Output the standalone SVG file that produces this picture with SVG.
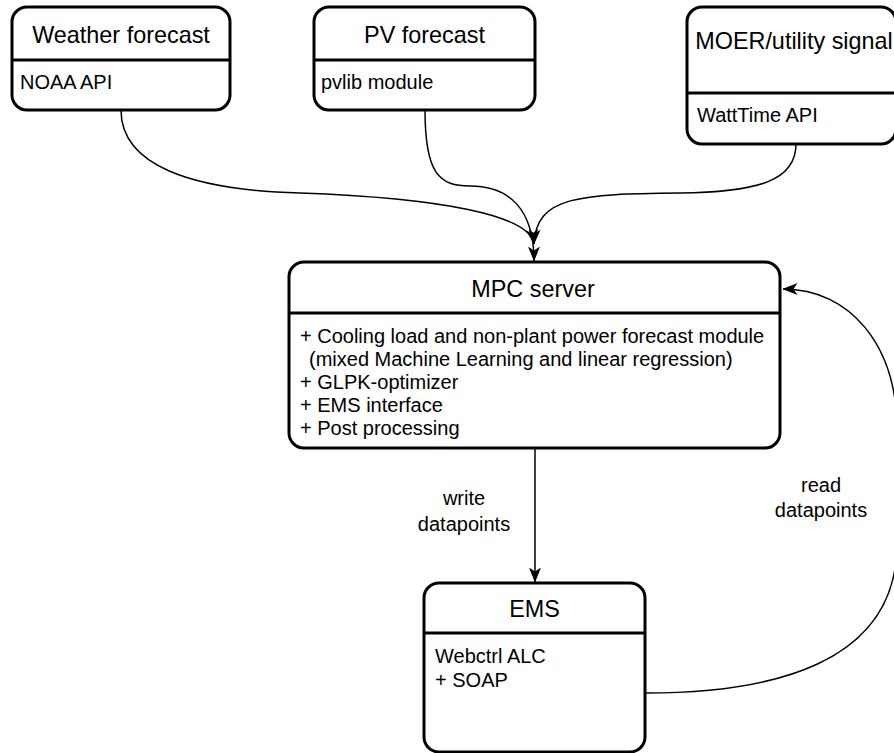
<svg xmlns="http://www.w3.org/2000/svg" width="894" height="753" viewBox="0 0 894 753">
<style>
.box{fill:#ffffff;stroke:#000000;stroke-width:3}
.div{stroke:#000000;stroke-width:3}
.t{font-family:"Liberation Sans",Arial,sans-serif;font-size:23.4px;fill:#000000;text-anchor:middle}
.b{font-family:"Liberation Sans",Arial,sans-serif;font-size:20px;fill:#000000}
.lbl{font-family:"Liberation Sans",Arial,sans-serif;font-size:20px;fill:#000000;text-anchor:middle}
.edge{fill:none;stroke:#000000;stroke-width:1.5;marker-end:url(#arr)}
</style>
<defs>
<marker id="arr" viewBox="0 0 15 12" refX="14.5" refY="6" markerWidth="15" markerHeight="12" markerUnits="userSpaceOnUse" orient="auto">
<path d="M0,0 L15,6 L0,12 L4,6 z" fill="#000000"/>
</marker>
</defs>
<rect width="894" height="753" fill="#ffffff"/>
<g id="connectors">
<path class="edge" d="M121,110 C121,165 190,190 300,193 C440,198 530,215 534,244"/>
<path class="edge" d="M425,110 C425,175 440,186 470,186 C510,186 534,210 534,261"/>
<path class="edge" d="M796,144 C796,180 760,192 680,193 C580,194 536,196 534,244"/>
<path class="edge" d="M535,448 L535,582"/>
<path class="edge" d="M645,693 C770,693 896,665 897,545 L897,430 C897,345 850,289 783,289"/>
<text class="lbl" x="464" y="505">write</text>
<text class="lbl" x="464" y="531">datapoints</text>
<text class="lbl" x="821" y="492">read</text>
<text class="lbl" x="821" y="517">datapoints</text>
</g>
<g id="weather">
<rect class="box" x="12" y="7" width="218" height="103" rx="15"/>
<line class="div" x1="12" y1="60" x2="230" y2="60"/>
<text class="t" x="121" y="43">Weather forecast</text>
<text class="b" x="20" y="89">NOAA API</text>
</g>
<g id="pv">
<rect class="box" x="314" y="7" width="221" height="103" rx="15"/>
<line class="div" x1="314" y1="60" x2="535" y2="60"/>
<text class="t" x="424.5" y="43">PV forecast</text>
<text class="b" x="321" y="89">pvlib module</text>
</g>
<g id="moer">
<rect class="box" x="687" y="7" width="209" height="137" rx="15"/>
<line class="div" x1="687" y1="93" x2="896" y2="93"/>
<text class="t" x="794" y="49">MOER/utility signal</text>
<text class="b" x="697" y="122">WattTime API</text>
</g>
<g id="mpc">
<rect class="box" x="289" y="262" width="491" height="186" rx="15"/>
<line class="div" x1="289" y1="313" x2="780" y2="313"/>
<text class="t" x="533" y="297">MPC server</text>
<text class="b" x="300" y="343">+ Cooling load and non-plant power forecast module</text>
<text class="b" x="309" y="366">(mixed Machine Learning and linear regression)</text>
<text class="b" x="300" y="389">+ GLPK-optimizer</text>
<text class="b" x="300" y="412">+ EMS interface</text>
<text class="b" x="300" y="435">+ Post processing</text>
</g>
<g id="ems">
<rect class="box" x="424" y="583" width="221" height="169" rx="15"/>
<line class="div" x1="424" y1="633" x2="645" y2="633"/>
<text class="t" x="534.5" y="617">EMS</text>
<text class="b" x="435" y="663">Webctrl ALC</text>
<text class="b" x="435" y="687">+ SOAP</text>
</g>
</svg>
